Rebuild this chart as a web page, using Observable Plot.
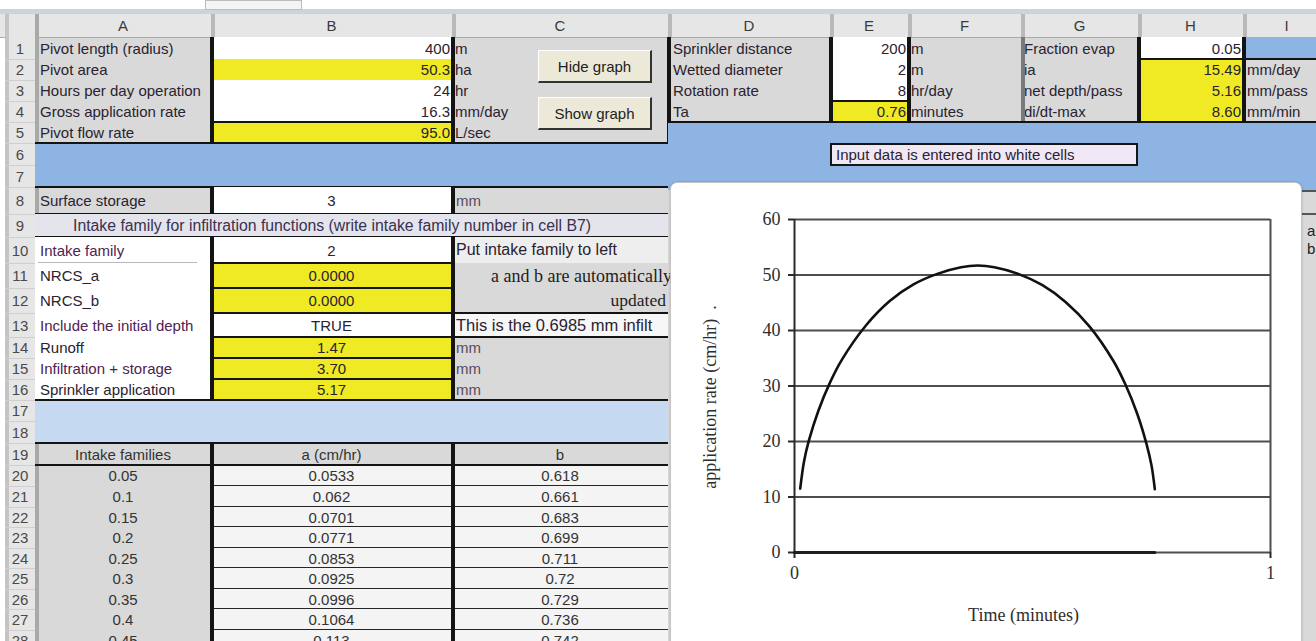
<!DOCTYPE html>
<html><head><meta charset="utf-8">
<script src="https://cdn.jsdelivr.net/npm/d3@7"></script>
<script src="https://cdn.jsdelivr.net/npm/@observablehq/plot@0.6"></script>
<style>
html,body{margin:0;padding:0;background:#fff;}
#sheet{position:relative;width:1316px;height:641px;overflow:hidden;background:#fff;font-family:"Liberation Sans",Arial,sans-serif;}
.c{position:absolute;box-sizing:border-box;font-size:15px;color:#2a2230;white-space:nowrap;overflow:hidden;line-height:1;display:flex;align-items:center;}
.btn{position:absolute;box-sizing:border-box;background:#ece9d8;border-top:1px solid #fff;border-left:1px solid #fff;border-right:2px solid #333;border-bottom:2px solid #333;font-size:15px;color:#222;display:flex;align-items:center;justify-content:center;font-family:"Liberation Sans",Arial,sans-serif;}
#chartbox{position:absolute;left:670px;top:182px;width:632px;height:480px;background:#fff;border:1px solid #c4c4c4;border-radius:7px;box-sizing:border-box;box-shadow:0 0 2px rgba(0,0,0,0.25);}
#chart{position:absolute;left:670px;top:182px;}
</style></head><body><div id="sheet"></div><div id="chart"></div>
<script>
// ---------- DATA ----------
const columnLetters = ["A","B","C","D","E","F","G","H","I"];
const rowNumbers = [1,2,3,4,5,6,7,8,9,10,11,12,13,14,15,16,17,18,19,20,21,22,23,24,25,26,27,28];

const pivotLabels = ["Pivot length (radius)","Pivot area","Hours per day operation","Gross application rate","Pivot flow rate"];
const pivotValues = ["400","50.3","24","16.3","95.0"];
const pivotUnits = ["m","ha","hr","mm/day","L/sec"];

const sprinklerLabels = ["Sprinkler distance","Wetted diameter","Rotation rate","Ta"];
const sprinklerValues = ["200","2","8","0.76"];
const sprinklerUnits = ["m","m","hr/day","minutes"];
const evapLabels = ["Fraction evap","ia","net depth/pass","di/dt-max"];
const evapValues = ["0.05","15.49","5.16","8.60"];
const evapUnits = ["","mm/day","mm/pass","mm/min"];

const buttonLabels = ["Hide graph","Show graph"];
const noteText = "Input data is entered into white cells";

const storageLabel = "Surface storage", storageValue = "3", storageUnit = "mm";
const intakeHeading = "Intake family for infiltration functions (write intake family number in cell B7)";
const intakeLabels = ["Intake family","NRCS_a","NRCS_b","Include the initial depth","Runoff","Infiltration + storage","Sprinkler application"];
const intakeValues = ["2","0.0000","0.0000","TRUE","1.47","3.70","5.17"];
const intakeNotes = ["Put intake family to left","a and b are automatically","updated","This is the 0.6985 mm infilt","mm","mm","mm"];

const tableHeaders = ["Intake families","a (cm/hr)","b"];
const intakeFamilies = ["0.05","0.1","0.15","0.2","0.25","0.3","0.35","0.4","0.45"];
const aValues = ["0.0533","0.062","0.0701","0.0771","0.0853","0.0925","0.0996","0.1064","0.113"];
const bValues = ["0.618","0.661","0.683","0.699","0.711","0.72","0.729","0.736","0.742"];
const sideTexts = ["a","b"];

// chart series
const timeMinutes = [0.012,0.02,0.03,0.05,0.075,0.1,0.15,0.2,0.25,0.3,0.35,0.385,0.42,0.47,0.52,0.57,0.62,0.67,0.695,0.72,0.74,0.75,0.757];
const applicationRate = [11.5,16.4,20.1,25.5,30.7,34.8,40.9,45.3,48.3,50.2,51.4,51.7,51.4,50.2,48.2,45.1,40.7,34.5,30.3,25.0,19.4,15.7,11.4];
const baselineTime = [0,0.757];
const baselineRate = [0,0];
const xTicks = [0,1];
const yTicks = [0,10,20,30,40,50,60];
const xTitle = "Time (minutes)";
const yTitle = "application rate (cm/hr)  .";

// ---------- LAYOUT ----------
const colX = [5,35,211,452,668,830,908,1021,1138,1243,1330];
const rowY = [14,37,59,80,101,122,143,165,187,214,237,263,288,313,337,358,379,400,421,443,465,486,507,527,548,568,589,609,630,651];
const GRAY="#d9d9d9", YEL="#efea24", WHITE="#ffffff", BLUE="#8db4e2", LBLUE="#c5d9f1", HDR="#e6e6e6";
const PURPLE="#4e2352";
const sheet = document.getElementById("sheet");

function cell(x1,y1,x2,y2,o={}){
  const d=document.createElement("div");d.className="c";
  Object.assign(d.style,{left:x1+"px",top:y1+"px",width:(x2-x1)+"px",height:(y2-y1)+"px",background:o.bg||"transparent"});
  if(o.text!==undefined){d.textContent=o.text;}
  const a=o.align||"left";
  d.style.justifyContent=a==="right"?"flex-end":a==="center"?"center":"flex-start";
  if(a==="left")d.style.paddingLeft=(o.pad!==undefined?o.pad:4)+"px";
  if(a==="right")d.style.paddingRight=(o.pad!==undefined?o.pad:2)+"px";
  if(o.color)d.style.color=o.color;
  if(o.font)d.style.fontFamily=o.font;
  if(o.size)d.style.fontSize=o.size+"px";
  if(o.border)d.style.border=o.border;
  sheet.appendChild(d);return d;
}
function hl(x1,x2,y,w=2,c="#141414"){cell(x1,y-w/2,x2,y+w/2,{bg:c});}
function vl(x,y1,y2,w=2,c="#141414"){cell(x-w/2,y1,x+w/2,y2,{bg:c});}

// window chrome
cell(0,0,1316,14,{bg:"#ffffff"});
cell(0,9,1316,14,{bg:"#cdd2dc"});
cell(205,0,302,10,{bg:"#f4f4f4",border:"1px solid #bcbcbc"});
// base gray sheet
cell(35,37,1330,700,{bg:GRAY});
// column header
cell(0,14,1330,37,{bg:HDR});
columnLetters.forEach((L,i)=>{
  cell(colX[i+1],14,colX[i+2],37,{text:L,align:"center",color:"#3a3a3a"});
  vl(colX[i+1],14,37,1,"#b9b9b9");
});
hl(0,1330,37,1,"#a9a9a9");
// row headers
cell(5,37,35,700,{bg:HDR});
vl(5,14,700,1,"#c4c4c4");
rowNumbers.forEach((n,i)=>{
  cell(5,rowY[i+1],35,rowY[i+2],{text:String(n),align:"center",color:"#4a4a4a"});
  hl(5,35,rowY[i+2],1,"#cfcfcf");
});
vl(35,14,700,1,"#a9a9a9");

// rows 1-5, columns A-C
pivotLabels.forEach((t,i)=>{
  const y1=rowY[i+1],y2=rowY[i+2];
  cell(colX[1],y1,colX[2],y2,{text:t,pad:5});
  cell(colX[2],y1,colX[3],y2,{text:pivotValues[i],align:"right",bg:(i===1||i===4)?YEL:WHITE});
  cell(colX[3],y1,colX[3]+110,y2,{text:pivotUnits[i],pad:3});
});
vl(211,37,143);vl(452,37,143);hl(211,452,122);vl(668,37,143);
// buttons
[[50,83],[97,130]].forEach((yy,i)=>{
  const b=document.createElement("div");b.className="btn";b.textContent=buttonLabels[i];
  Object.assign(b.style,{left:"538px",top:yy[0]+"px",width:"114px",height:(yy[1]-yy[0])+"px"});
  sheet.appendChild(b);
});

// rows 1-4, columns D-I
sprinklerLabels.forEach((t,i)=>{
  const y1=rowY[i+1],y2=rowY[i+2];
  cell(colX[4],y1,colX[5],y2,{text:t,pad:5});
  cell(colX[5],y1,colX[6],y2,{text:sprinklerValues[i],align:"right",bg:i===3?YEL:WHITE});
  cell(colX[6],y1,colX[7],y2,{text:sprinklerUnits[i],pad:3});
  cell(colX[7],y1,colX[8],y2,{text:evapLabels[i],pad:3});
  cell(colX[8],y1,colX[9],y2,{text:evapValues[i],align:"right",bg:i===0?WHITE:YEL});
  cell(colX[9],y1,colX[10],y2,{text:evapUnits[i],pad:4,bg:i===0?BLUE:GRAY});
});
vl(830,37,122);vl(908,37,122);hl(830,908,101);vl(1021,37,122,1,"#7a7a7a");
vl(1138,37,122);vl(1243,37,122);hl(1138,1330,59);hl(668,1330,122);
// blue bands
cell(35,143,668,187,{bg:BLUE});
cell(668,123,1330,190,{bg:BLUE});
hl(35,668,143);hl(35,668,187);
cell(830,143,1138,166,{bg:"#f1e8f5",border:"2px solid #151515",text:noteText,pad:4});

// row 8
cell(35,187,211,214,{text:storageLabel,pad:5});
cell(211,187,452,214,{text:storageValue,align:"center",bg:WHITE});
cell(452,187,668,214,{text:storageUnit,pad:4,color:"#5a4a5e"});
vl(211,187,214);vl(452,187,214);hl(35,668,214);
// row 9
cell(35,214,668,237,{bg:"#e4e4ec"});
cell(73,214,668,237,{text:intakeHeading,pad:0,color:"#3a3050",size:15.8});
hl(35,668,237,2.5);
// rows 10-16
intakeLabels.forEach((t,i)=>{
  const r=10+i,y1=rowY[r],y2=rowY[r+1];
  const purple=(i===0||i===3||i===5);
  cell(35,y1,211,y2,{text:t,pad:5,bg:WHITE,color:purple?PURPLE:"#2a2230"});
  cell(211,y1,452,y2,{text:intakeValues[i],align:"center",bg:(i===0||i===3)?WHITE:YEL});
});
hl(38,197,262,1,"#b8b8b8");
cell(452,237,668,263,{text:intakeNotes[0],pad:4,bg:"#eeeeee",size:16});
cell(452,263,668,313,{bg:GRAY});
cell(452,263,672,288,{text:intakeNotes[1],align:"right",pad:0,font:'"Liberation Serif","Times New Roman",serif',size:18,color:"#1e1e1e"});
cell(452,288,668,313,{text:intakeNotes[2],align:"right",pad:2,font:'"Liberation Serif","Times New Roman",serif',size:17.5,color:"#1e1e1e"});
cell(452,313,668,337,{text:intakeNotes[3],pad:4,bg:"#f7f7f7",size:16.5});
[4,5,6].forEach(i=>cell(452,rowY[10+i],668,rowY[11+i],{text:intakeNotes[i],pad:4,color:"#5a4a5e"}));
vl(211,237,400);vl(452,237,400);
hl(211,452,263);hl(211,452,288);hl(211,668,313);hl(211,668,337);
hl(211,452,358,1.5);hl(211,452,379,1.5);hl(35,668,400,2.5);
// rows 17-18
cell(35,401,668,443,{bg:LBLUE});
hl(35,668,443,2.5);
// row 19
cell(35,443,211,465,{text:tableHeaders[0],align:"center",color:"#333"});
cell(211,443,452,465,{text:tableHeaders[1],align:"center",color:"#333"});
cell(452,443,668,465,{text:tableHeaders[2],align:"center",color:"#333"});
// rows 20-28
intakeFamilies.forEach((f,i)=>{
  const y1=rowY[20+i],y2=rowY[21+i];
  cell(35,y1,211,y2,{text:f,align:"center",color:"#333"});
  cell(211,y1,452,y2,{text:aValues[i],align:"center",bg:"#f4f4f4",color:"#333"});
  cell(452,y1,668,y2,{text:bValues[i],align:"center",bg:"#f4f4f4",color:"#333"});
  hl(211,668,y2,1.5,"#262626");
});
vl(211,443,700);vl(452,443,700);hl(35,668,465,2.5);
// right of chart
cell(1302,190,1330,700,{bg:GRAY});
cell(1305,221,1330,239,{text:sideTexts[0],pad:2,color:"#222"});
cell(1305,239,1330,257,{text:sideTexts[1],pad:2,color:"#222"});
hl(1302,1316,191,2,"#555");hl(1302,1316,214,2,"#555");

// chart frame
const box=document.createElement("div");box.id="chartbox";sheet.appendChild(box);

// ---------- CHART ----------
const curve = timeMinutes.map((t,i)=>({t, r: applicationRate[i]}));
const baseline = baselineTime.map((t,i)=>({t, r: baselineRate[i]}));
const serif='"Liberation Serif","Times New Roman",serif';
const chart = Plot.plot({
  width: 630, height: 459,
  marginLeft: 124, marginRight: 30, marginTop: 37, marginBottom: 89,
  style: {fontFamily: serif, fontSize: "18px", color: "#2e2e2e", background: "transparent", overflow: "visible"},
  x: {domain: [0,1], label: null},
  y: {domain: [0,60], label: null},
  marks: [
    Plot.ruleY(yTicks, {stroke: "#4e4e4e", strokeWidth: 2}),
    Plot.ruleX([1], {stroke: "#4e4e4e", strokeWidth: 2}),
    Plot.ruleX([0], {stroke: "#2a2a2a", strokeWidth: 2}),
    Plot.axisY({ticks: yTicks, tickSize: 6, tickPadding: 8, label: null, stroke: "#2a2a2a", strokeWidth: 2}),
    Plot.axisX({ticks: xTicks, tickFormat: d => String(d), tickSize: 6, tickPadding: 8, label: null, stroke: "#2a2a2a", strokeWidth: 2}),
    Plot.line(baseline, {x: "t", y: "r", stroke: "#1e1e1e", strokeWidth: 3.2}),
    Plot.line(curve, {x: "t", y: "r", stroke: "#111", strokeWidth: 2.6, curve: "catmull-rom"}),
    Plot.text([xTitle], {text: d => d, frameAnchor: "bottom", dx: -9, dy: 68, fontSize: 18, fill: "#2e2e2e"}),
    Plot.text([yTitle], {text: d => d, frameAnchor: "left", textAnchor: "middle", dx: -84, dy: 11, rotate: -90, fontSize: 18, fill: "#2e2e2e"})
  ]
});
document.getElementById("chart").appendChild(chart);
</script></body></html>
